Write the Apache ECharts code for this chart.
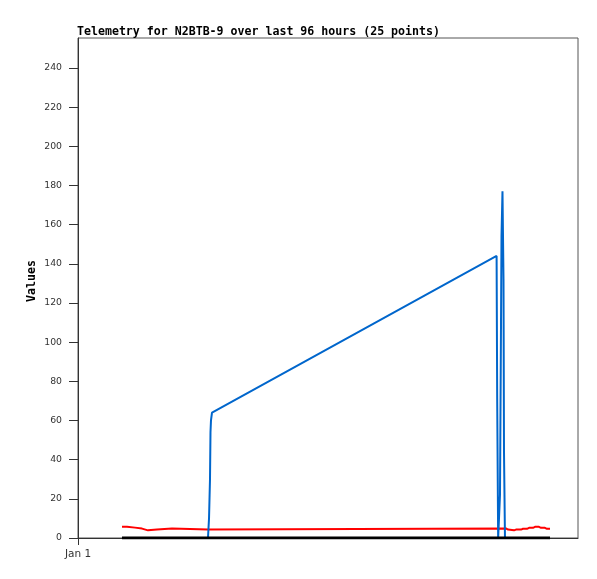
<!DOCTYPE html>
<html>
<head>
<meta charset="utf-8">
<script src="https://cdn.jsdelivr.net/npm/echarts@6/dist/echarts.min.js"></script>
<style>html,body{margin:0;padding:0;background:#fff}#c{width:597px;height:579px}</style>
</head>
<body>
<div id="c"></div>
<script>
// x values are hours from the left edge of the plotted window
const titleText = 'Telemetry for N2BTB-9 over last 96 hours (25 points)';
const xTickLabels = ['Jan 1'];
const yTicks = [0, 20, 40, 60, 80, 100, 120, 140, 160, 180, 200, 220, 240];

const redHours = [9.87, 10.99, 11.22, 12.79, 13.01, 14.36, 14.58, 15.70, 15.93, 17.72, 17.95, 21.09, 21.31, 29.16, 29.39, 96.00, 96.46, 96.90, 97.80, 98.25, 99.37, 99.82, 100.72, 101.17, 102.06, 102.51, 103.41, 103.86, 104.75, 105.20, 105.88];
const redValues = [5.8, 5.8, 5.3, 5.3, 4.8, 4.8, 3.9, 3.9, 4.3, 4.3, 4.8, 4.8, 4.3, 4.3, 4.9, 4.9, 4.3, 3.9, 3.9, 4.3, 4.3, 4.7, 4.7, 5.2, 5.2, 5.7, 5.7, 5.2, 5.2, 4.7, 4.7];

const blueHours = [9.87, 29.16, 29.39, 29.61, 29.72, 29.83, 30.06, 93.90, 94.03, 94.25, 94.66, 94.89, 95.00, 95.22, 95.45, 95.56, 95.78, 105.88];
const blueValues = [0, 0, 10, 30, 54, 60, 64, 144, 72, 0, 22, 110, 154, 177, 132, 44, 0, 0];

const blackHours = [9.87, 105.88];
const blackValues = [0, 0];

const pair = (xs, ys) => xs.map((x, i) => [x, ys[i]]);

const chart = echarts.init(document.getElementById('c'));
chart.setOption({
  animation: false,
  title: {
    text: titleText,
    left: 77, top: 26, padding: 0,
    textStyle: {fontFamily: 'DejaVu Sans Mono', fontWeight: 'bold', fontSize: 11.6, color: '#000'}
  },
  grid: {left: 78, right: 19, top: 38, bottom: 41, show: true, borderColor: '#555', borderWidth: 1, backgroundColor: '#fff'},
  xAxis: {
    type: 'value', min: 0, max: 112.16,
    splitLine: {show: false},
    axisLine: {show: true, lineStyle: {color: '#333'}},
    axisTick: {show: true, length: 7, lineStyle: {color: '#333'}, customValues: [0]},
    axisLabel: {
      customValues: [0],
      formatter: () => xTickLabels[0],
      fontFamily: 'DejaVu Sans', fontSize: 10.5, color: '#333', margin: 11
    }
  },
  yAxis: {
    type: 'value', min: 0, max: 255.3,
    name: 'Values', nameLocation: 'middle', nameGap: 40, nameRotate: 90, nameMoveOverlap: false,
    nameTextStyle: {fontFamily: 'DejaVu Sans Mono', fontWeight: 'bold', fontSize: 11.6, color: '#000', padding: [0, 0, 0, 14]},
    splitLine: {show: false},
    axisLine: {show: true, lineStyle: {color: '#333'}},
    axisTick: {show: true, length: 9, lineStyle: {color: '#333'}, customValues: yTicks},
    axisLabel: {customValues: yTicks, fontFamily: 'DejaVu Sans', fontSize: 9.3, color: '#333', margin: 16}
  },
  series: [
    {type: 'line', data: pair(redHours, redValues), showSymbol: false, lineStyle: {color: '#ff0000', width: 2}, z: 2},
    {type: 'line', data: pair(blueHours, blueValues), showSymbol: false, lineStyle: {color: '#0066cc', width: 2}, z: 3},
    {type: 'line', data: pair(blackHours, blackValues), showSymbol: false, lineStyle: {color: '#000', width: 3}, z: 4}
  ]
});
</script>
</body>
</html>
